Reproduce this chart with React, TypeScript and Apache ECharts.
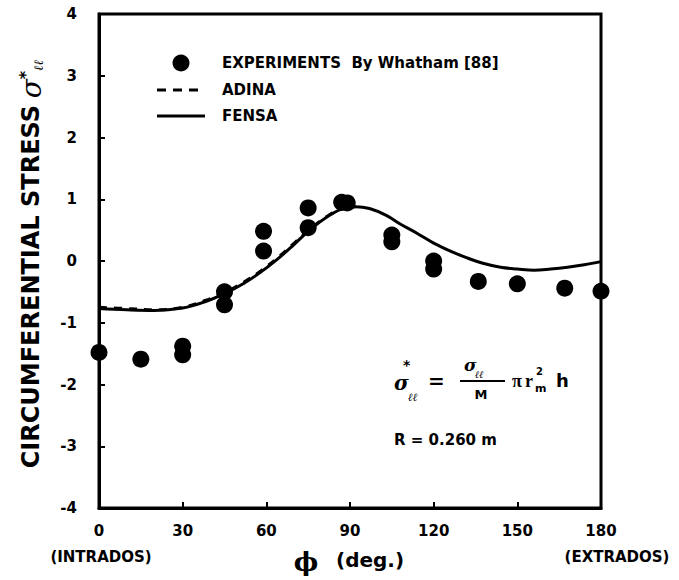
import React, { useEffect, useRef } from "react";
import * as echarts from "echarts";

const xTicks = [0, 30, 60, 90, 120, 150, 180];
const yTicks = [-4, -3, -2, -1, 0, 1, 2, 3, 4];

const expPhi = [0, 15, 30, 30, 45, 45, 59, 59, 75, 75, 87, 89, 105, 105, 120, 120, 136, 150, 167, 180];
const expStress = [-1.48, -1.59, -1.38, -1.52, -0.5, -0.71, 0.48, 0.16, 0.86, 0.54, 0.95, 0.94, 0.42, 0.31, 0.0, -0.13, -0.33, -0.37, -0.44, -0.49];

const fensaPhi = [0, 10, 20, 30, 38, 45, 52, 58, 64, 70, 76, 82, 87, 92, 97, 103, 108, 114, 120, 126, 132, 138, 144, 150, 156, 162, 168, 174, 180];
const fensaStress = [-0.77, -0.79, -0.8, -0.76, -0.66, -0.53, -0.36, -0.18, 0.03, 0.27, 0.52, 0.72, 0.84, 0.88, 0.85, 0.74, 0.6, 0.45, 0.29, 0.16, 0.05, -0.04, -0.1, -0.13, -0.15, -0.13, -0.1, -0.06, -0.01];

const adinaPhi = [0, 10, 20, 30, 38, 45, 52, 58, 64, 70, 76, 82, 87, 92];
const adinaStress = [-0.75, -0.77, -0.79, -0.75, -0.64, -0.51, -0.34, -0.16, 0.05, 0.29, 0.53, 0.73, 0.85, 0.88];

const SANS = "'DejaVu Sans', 'Liberation Sans', Arial, sans-serif";
const SERIF = "'DejaVu Serif', serif";

const txt = (x: number, y: number, text: string, fontSize: number, extra: any = {}) => ({
  type: "text",
  x,
  y,
  style: { text, fontSize, fontWeight: "bold", fontFamily: SANS, fill: "#000", verticalAlign: "middle", ...extra },
});

export default function App() {
  const ref = useRef<HTMLDivElement>(null);
  useEffect(() => {
    if (!ref.current) return;
    const chart = echarts.init(ref.current, null, { renderer: "svg" });
    const exp = expPhi.map((p, i) => [p, expStress[i]]);
    const fensa = fensaPhi.map((p, i) => [p, fensaStress[i]]);
    const adina = adinaPhi.map((p, i) => [p, adinaStress[i]]);
    const labelStyle = { color: "#000", fontWeight: "bold" as const, fontSize: 15, fontFamily: SANS };
    chart.setOption({
      animation: false,
      backgroundColor: "#fff",
      grid: { left: 99, right: 78, top: 14, bottom: 72, show: true, borderColor: "#000", borderWidth: 3, backgroundColor: "transparent" },
      xAxis: {
        type: "value", min: 0, max: 180, interval: 30,
        axisLine: { show: true, onZero: false, lineStyle: { color: "#000", width: 3 } },
        axisTick: { show: true, inside: true, length: 6, lineStyle: { color: "#000", width: 2 } },
        splitLine: { show: false },
        axisLabel: { ...labelStyle, margin: 15, formatter: (v: number) => (xTicks.includes(v) ? String(v) : "") },
      },
      yAxis: {
        type: "value", min: -4, max: 4, interval: 1,
        axisLine: { show: true, onZero: false, lineStyle: { color: "#000", width: 3 } },
        axisTick: { show: true, inside: true, length: 6, lineStyle: { color: "#000", width: 2 } },
        splitLine: { show: false },
        axisLabel: { ...labelStyle, margin: 22, formatter: (v: number) => (yTicks.includes(v) ? String(v) : "") },
      },
      series: [
        { name: "FENSA", type: "line", data: fensa, smooth: 0.4, showSymbol: false, lineStyle: { color: "#000", width: 3 } },
        { name: "ADINA", type: "line", data: adina, smooth: 0.4, showSymbol: false, lineStyle: { color: "#000", width: 3, type: [8, 7] } },
        { name: "EXPERIMENTS", type: "scatter", data: exp, symbol: "circle", symbolSize: 17, itemStyle: { color: "#000", opacity: 1 }, z: 5 },
      ],
      graphic: [
        {
          type: "text", x: 31, y: 264, rotation: Math.PI / 2,
          style: {
            text: "{t|CIRCUMFERENTIAL STRESS}  {s|σ}{sup|*}{sub|ℓℓ}",
            align: "center", verticalAlign: "middle",
            rich: {
              t: { fontSize: 24, fontWeight: "bold", fontFamily: SANS, fill: "#000" },
              s: { fontSize: 28, fontStyle: "italic", fontFamily: SERIF, fill: "#000" },
              sup: { fontSize: 16, fontWeight: "bold", fontFamily: SANS, fill: "#000", verticalAlign: "top" },
              sub: { fontSize: 13, fontStyle: "italic", fontWeight: "bold", fontFamily: SERIF, fill: "#000", verticalAlign: "bottom" },
            },
          },
        },
        txt(306, 562, "ϕ", 26, { align: "center", fontFamily: SERIF }),
        txt(336, 560, "(deg.)", 20),
        txt(101, 557, "(INTRADOS)", 15, { align: "center" }),
        txt(617, 557, "(EXTRADOS)", 15, { align: "center" }),
        // legend
        { type: "circle", shape: { cx: 181, cy: 63, r: 8.5 }, style: { fill: "#000" } },
        txt(222, 63, "EXPERIMENTS  By Whatham [88]", 15),
        { type: "line", shape: { x1: 157, y1: 90, x2: 205, y2: 90 }, style: { stroke: "#000", lineWidth: 3, lineDash: [9, 7] } },
        txt(222, 90, "ADINA", 15),
        { type: "line", shape: { x1: 157, y1: 116, x2: 205, y2: 116 }, style: { stroke: "#000", lineWidth: 3 } },
        txt(222, 116, "FENSA", 15),
        // formula
        txt(394, 383, "σ", 20, { fontStyle: "italic", fontFamily: SERIF, lineHeight: 14 }),
        txt(403, 365, "*", 14, { lineHeight: 8 }),
        txt(408, 397, "ℓℓ", 11, { fontStyle: "italic", fontFamily: SERIF, lineHeight: 9 }),
        txt(428, 381, "=", 20, { lineHeight: 14 }),
        txt(464, 365, "σ", 17, { fontStyle: "italic", fontFamily: SERIF, lineHeight: 15 }),
        txt(475, 374, "ℓℓ", 10, { fontStyle: "italic", fontFamily: SERIF, lineHeight: 8 }),
        { type: "line", shape: { x1: 460, y1: 381, x2: 505, y2: 381 }, style: { stroke: "#000", lineWidth: 2 } },
        txt(481, 394, "M", 13, { align: "center", lineHeight: 12 }),
        txt(512, 381, "π", 18, { fontFamily: "'Liberation Serif', serif", lineHeight: 16 }),
        txt(525, 381, "r", 18, { fontFamily: "'Liberation Serif', serif", lineHeight: 16 }),
        txt(536, 371, "2", 10, { lineHeight: 9 }),
        txt(535, 388, "m", 11, { lineHeight: 9 }),
        txt(556, 380, "h", 18, { lineHeight: 16 }),
        txt(394, 440, "R = 0.260 m", 15),
      ],
    });
    return () => chart.dispose();
  }, []);
  return <div ref={ref} style={{ position: "absolute", left: 0, top: 0, width: 679, height: 580 }} />;
}
